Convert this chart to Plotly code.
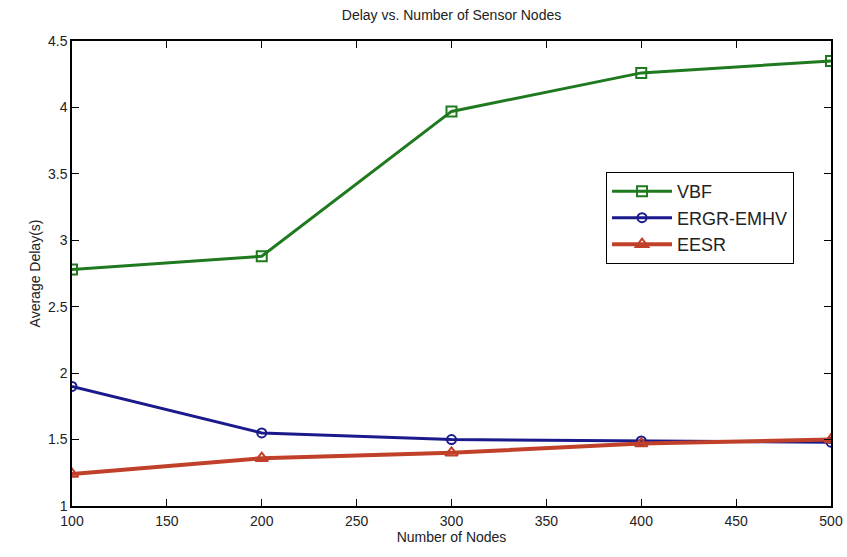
import plotly.graph_objects as go

nodes = [100, 200, 300, 400, 500]
vbf = [2.78, 2.88, 3.97, 4.26, 4.35]
ergr = [1.90, 1.55, 1.50, 1.49, 1.48]
eesr = [1.24, 1.36, 1.40, 1.47, 1.50]
x_ticks = [100, 150, 200, 250, 300, 350, 400, 450, 500]
y_ticks = [1, 1.5, 2, 2.5, 3, 3.5, 4, 4.5]
y_tick_labels = ["1", "1.5", "2", "2.5", "3", "3.5", "4", "4.5"]

FONT = "Liberation Sans, Arial"

fig = go.Figure()
fig.add_trace(go.Scatter(x=nodes, y=vbf, name="VBF", mode="lines+markers", legendgroup="a",
                         line=dict(color="#1f7a1f", width=3),
                         marker=dict(symbol="square-open", size=10, color="#1f7a1f", line=dict(width=2))))
fig.add_trace(go.Scatter(x=nodes, y=ergr, name="ERGR-EMHV", mode="lines+markers", legendgroup="b",
                         line=dict(color="#1a1a8c", width=3),
                         marker=dict(symbol="circle-open", size=9, color="#1a1a8c", line=dict(width=2))))
fig.add_trace(go.Scatter(x=nodes, y=eesr, name="EESR", mode="lines+markers", legendgroup="c",
                         line=dict(color="#c0402a", width=4),
                         marker=dict(symbol="triangle-up-open", size=11, color="#c0402a", line=dict(width=2))))

axis_common = dict(showgrid=False, zeroline=False, showline=True, linecolor="black", linewidth=1.5,
                   mirror="ticks", ticks="inside", ticklen=7, tickcolor="black", automargin=False,
                   tickfont=dict(family=FONT, size=14, color="#222"))

fig.update_xaxes(range=[100, 500], tickvals=x_ticks, **axis_common, ticklabelstandoff=1,
                 title=dict(text="Number of Nodes", font=dict(family=FONT, size=14, color="#222"), standoff=0))
fig.update_yaxes(range=[1, 4.5], tickvals=y_ticks, ticktext=y_tick_labels, **axis_common,
                 title=dict(text="Average Delay(s)", font=dict(family=FONT, size=14, color="#222"), standoff=4))

fig.update_layout(
    width=847, height=557,
    margin=dict(l=72, r=16, t=41, b=51),
    plot_bgcolor="white", paper_bgcolor="white",
    title=dict(text="Delay vs. Number of Sensor Nodes", x=0.5, xanchor="center", xref="paper",
               y=1 - 15 / 557, yanchor="middle", yref="container",
               font=dict(family=FONT, size=14, color="#222")),
    legend=dict(x=0.7036, y=0.718, xanchor="left", yanchor="top", bordercolor="black", borderwidth=1,
                bgcolor="white", font=dict(family=FONT, size=18, color="#222"),
                tracegroupgap=0, itemwidth=60),
    showlegend=True,
)

# remove the default 8px page margin so the figure sits at the window's corner
fig.write_html("out.html", config={"displayModeBar": False},
               post_script="document.body.style.margin='0';")
